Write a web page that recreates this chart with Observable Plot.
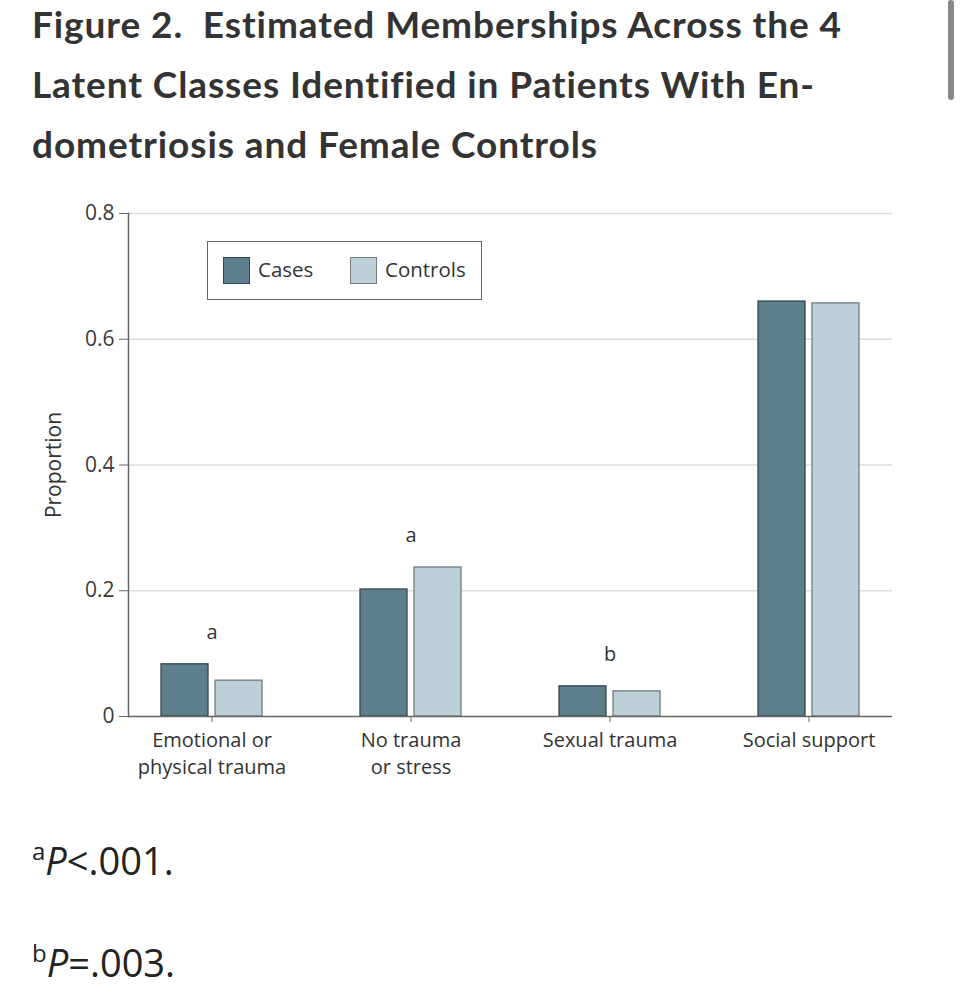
<!DOCTYPE html>
<html>
<head>
<meta charset="utf-8">
<script src="https://cdn.jsdelivr.net/npm/d3@7"></script>
<script src="https://cdn.jsdelivr.net/npm/@observablehq/plot@0.6"></script>
<style>
  html, body { margin: 0; padding: 0; background: #fff; }
  body { width: 964px; height: 1000px; position: relative; overflow: hidden; font-family: "Open Sans", sans-serif; }
  #title { position: absolute; left: 32px; top: -6px; font-family: Lato, sans-serif; font-weight: 700; font-size: 37px; line-height: 60px; color: #333; letter-spacing: 0.9px; white-space: nowrap; }
  #chart { position: absolute; left: 0; top: 190px; }
  #legend { position: absolute; left: 207px; top: 241px; width: 273px; height: 57px; border: 1.5px solid #666; background: #fff; font-family: "Open Sans", sans-serif; font-size: 20.5px; color: #333; }
  .sw { position: absolute; top: 15px; width: 27px; height: 27px; box-sizing: border-box; }
  .lab { position: absolute; top: 13px; line-height: 28px; }
  .foot { position: absolute; left: 32px; font-family: "Open Sans", sans-serif; font-size: 38px; line-height: 38px; color: #222; white-space: nowrap; }
  .foot sup { font-size: 24px; vertical-align: baseline; position: relative; top: -15px; line-height: 0; }
  #scroll { position: absolute; left: 948px; top: 0px; width: 6px; height: 100px; background: #888; border-radius: 3px; }
</style>
</head>
<body>
<div id="title"></div>
<div id="chart"></div>
<div id="legend"></div>
<div id="footnotes"></div>
<div id="scroll"></div>
<script>
// ---- data ----
const titleLines = ["Figure 2.\u00a0 Estimated Memberships Across the 4", "Latent Classes Identified in Patients With En-", "dometriosis and Female Controls"];
const categories = ["Emotional or physical trauma", "No trauma or stress", "Sexual trauma", "Social support"];
const tickLabels = ["Emotional or\nphysical trauma", "No trauma\nor stress", "Sexual trauma", "Social support"];
const groups = ["Cases", "Controls"];
const cases = [0.083, 0.202, 0.048, 0.660];
const controls = [0.057, 0.237, 0.040, 0.657];
const significance = ["a", "a", "b", ""];
const yTicks = [0, 0.2, 0.4, 0.6, 0.8];
const yLabel = "Proportion";
const footnoteMarks = ["a", "b"];
const footnoteTexts = ["<.001.", "=.003."];
const colors = {Cases: "#5d7e8c", Controls: "#bdd0da"};
const strokes = {Cases: "#34464f", Controls: "#707c82"};

// ---- tidy table ----
const rows = [];
categories.forEach((c, i) => {
  rows.push({category: c, group: groups[0], value: cases[i]});
  rows.push({category: c, group: groups[1], value: controls[i]});
});
const notes = categories.map((c, i) => ({category: c, label: significance[i], top: Math.max(cases[i], controls[i])})).filter(d => d.label);
const labelOf = new Map(categories.map((c, i) => [c, tickLabels[i]]));

document.getElementById("title").innerHTML = titleLines.join("<br>");

const chart = Plot.plot({
  width: 964,
  height: 600,
  marginLeft: 128,
  marginRight: 72,
  marginTop: 23,
  marginBottom: 74,
  style: {fontFamily: "'Open Sans', sans-serif", color: "#333", background: "#fff"},
  x: {domain: categories, paddingInner: 0.492, paddingOuter: 0.158, axis: null},
  y: {domain: [0, 0.8], axis: null},
  marks: [
    Plot.ruleY(yTicks.filter(d => d > 0), {stroke: "#dcdcdc", strokeWidth: 1.5}),
    Plot.barY(rows.filter(d => d.group === groups[0]), {x: "category", y: "value", fill: colors.Cases, stroke: strokes.Cases, strokeWidth: 1.3, insetRight: 54}),
    Plot.barY(rows.filter(d => d.group === groups[1]), {x: "category", y: "value", fill: colors.Controls, stroke: strokes.Controls, strokeWidth: 1.3, insetLeft: 54}),
    Plot.text(notes, {x: "category", y: "top", text: "label", dy: -32, fontSize: 20, fill: "#333"}),
    Plot.ruleY([0], {stroke: "#666", strokeWidth: 1.5}),
    Plot.frame({anchor: "left", stroke: "#666", strokeWidth: 1.5}),
    Plot.axisY({ticks: yTicks, tickSize: 9, tickPadding: 5, fontSize: 21, stroke: "#666", fill: "#3a3a3a", tickFormat: d => d === 0 ? "0" : d3.format(".1f")(d), label: null}),
    Plot.text([yLabel], {frameAnchor: "left", textAnchor: "middle", rotate: -90, dx: -74, fontSize: 21, fill: "#333"}),
    Plot.axisX({tickSize: 6, tickPadding: 5, fontSize: 20, lineHeight: 1.35, stroke: "#666", fill: "#333", tickFormat: d => labelOf.get(d), label: null})
  ]
});
document.getElementById("chart").appendChild(chart);

// legend
const legend = document.getElementById("legend");
const lx = [{sw: 15, lab: 50}, {sw: 142, lab: 177}];
groups.forEach((g, i) => {
  const s = document.createElement("div");
  s.className = "sw";
  s.style.left = lx[i].sw + "px";
  s.style.background = colors[g];
  s.style.border = "1.3px solid " + strokes[g];
  legend.appendChild(s);
  const t = document.createElement("div");
  t.className = "lab";
  t.style.left = lx[i].lab + "px";
  t.textContent = g;
  legend.appendChild(t);
});

// footnotes
const fn = document.getElementById("footnotes");
const fTop = [841, 943];
footnoteMarks.forEach((m, i) => {
  const d = document.createElement("div");
  d.className = "foot";
  d.style.top = fTop[i] + "px";
  d.innerHTML = `<sup>${m}</sup><i>P</i>${footnoteTexts[i].replace("<", "&lt;")}`;
  fn.appendChild(d);
});
</script>
</body>
</html>
